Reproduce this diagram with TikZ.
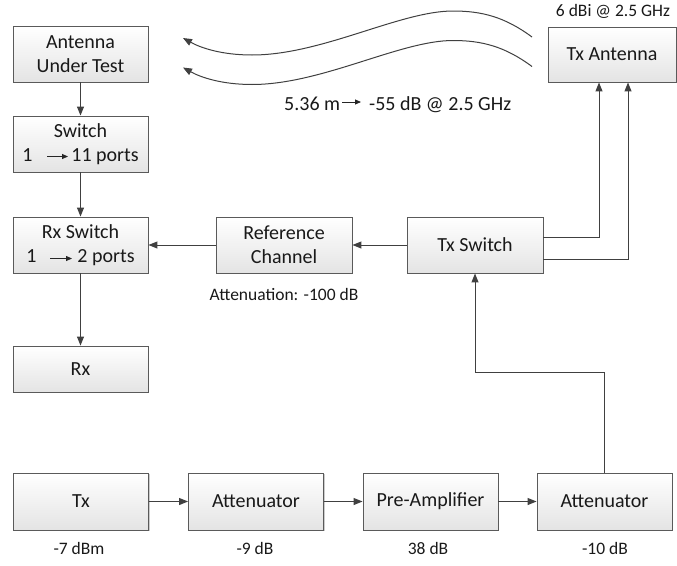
\documentclass[tikz,border=0pt]{standalone}
\usepackage{fontspec}
\setmainfont{Carlito}
\usetikzlibrary{arrows.meta,shadows}
\definecolor{linegray}{HTML}{404040}
\definecolor{boxedge}{HTML}{5A5A5A}
\definecolor{boxlow}{HTML}{E4E4E4}
\tikzset{
  block/.style={draw=boxedge, line width=0.9pt, top color=white, bottom color=boxlow,
    minimum width=135pt, minimum height=56pt, inner sep=0pt, align=center,
    font=\fontsize{20}{24}\selectfont, text=black!90,
    drop shadow={shadow xshift=1.2pt, shadow yshift=-1.2pt, fill=black, opacity=0.2}},
  conn/.style={draw=linegray, line width=1pt, -{Triangle[length=9pt,width=7pt]}},
  inlinearrow/.style={draw=black!85, line width=0.8pt, -{Triangle[length=6pt,width=5pt]}},
  note/.style={font=\fontsize{17.5}{21}\selectfont, inner sep=0pt, anchor=base, text=black!90},
}
\begin{document}
\begin{tikzpicture}[x=1pt,y=-1pt]
\useasboundingbox (0,0) rectangle (677,565);

% receive chain
\node[block] (aut) at (80.5,54) {Antenna\\Under Test};
\node[block] (sw) at (80.5,144) {Switch\\1\hspace{39pt}11 ports};
\node[block] (rxsw) at (80.5,245) {Rx Switch\\1\hspace{41pt}2 ports};
\node[block, minimum height=46pt] (rx) at (80.5,369) {Rx};
\node[block, minimum width=136pt] (ref) at (284,245) {Reference\\Channel};
\node[block, minimum width=136pt] (txsw) at (475,245) {Tx Switch};
\node[block, minimum width=128pt, minimum height=55pt] (txant) at (612,54.5) {Tx Antenna};

% transmit chain
\node[block, minimum height=57pt] (tx) at (81,501.5) {Tx};
\node[block, minimum height=57pt] (att1) at (256,501.5) {Attenuator};
\node[block, minimum height=57pt] (pre) at (430.5,501.5) {Pre-Amplifier};
\node[block, minimum height=57pt] (att2) at (604.5,501.5) {Attenuator};

% annotations
\node[note] (gain) at (613,16) {6 dBi @ 2.5 GHz};
\node[note] (refatt) at (284,300) {Attenuation: -100 dB};
\node[note] (txpow) at (79,554) {-7 dBm};
\node[note] (att1g) at (255,554) {-9 dB};
\node[note] (preg) at (428,554) {38 dB};
\node[note] (att2g) at (605,554) {-10 dB};
\node[anchor=base west, inner sep=0pt, font=\fontsize{20}{24}\selectfont, text=black!90]
  (pathloss) at (284,110) {5.36 m\hspace{29pt}-55 dB @ 2.5 GHz};

% small arrows inside the texts
\draw[inlinearrow] ([shift={(-33.5,12.5)}]sw.center) -- ++(21,0);
\draw[inlinearrow] ([shift={(-30.5,13.5)}]rxsw.center) -- ++(22,0);
\draw[inlinearrow] ([shift={(58,-8)}]pathloss.base west) -- ++(19,0);

% connectors
\draw[conn] (aut) -- (sw);
\draw[conn] (sw) -- (rxsw);
\draw[conn] (rxsw) -- (rx);
\draw[conn] (txsw) -- (ref);
\draw[conn] (ref) -- (rxsw);
\draw[conn] ([yshift=8pt]txsw.east) -| ([xshift=-13pt]txant.south);
\draw[conn] ([yshift=-14pt]txsw.east) -| ([xshift=16pt]txant.south);
\draw[conn] (att2.north) -- ++(0pt,100pt) -| (txsw.south);
\draw[conn] (tx) -- (att1);
\draw[conn] (att1) -- (pre);
\draw[conn] (pre) -- (att2);

% radiated waves
\coordinate (w1s) at (532,37);
\coordinate (w1e) at (183,38);
\coordinate (w2s) at (532,66.5);
\coordinate (w2e) at (183,67.5);
\draw[conn] (w1s) .. controls (505,17) and (482,11) .. (453,11)
  .. controls (400,11) and (322,55) .. (252,55)
  .. controls (222,55) and (201,48) .. (w1e);
\draw[conn] (w2s) .. controls (505,46.5) and (482,40.5) .. (453,40.5)
  .. controls (400,40.5) and (322,84.5) .. (252,84.5)
  .. controls (222,84.5) and (201,77.5) .. (w2e);
\end{tikzpicture}
\end{document}
